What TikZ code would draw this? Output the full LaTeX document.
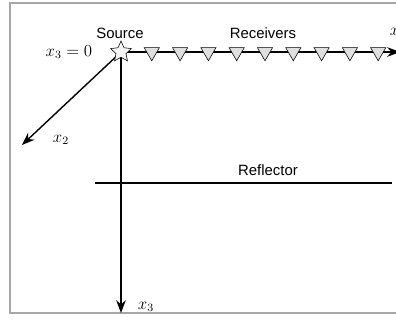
\documentclass[tikz,border=0pt]{standalone}
\usepackage{fontspec}
\setsansfont{Liberation Sans}
\usetikzlibrary{positioning,arrows.meta,shapes.geometric}

\begin{document}
\begin{tikzpicture}[x=0.025cm, y=-0.025cm, font=\sffamily\fontsize{10.6}{12}\selectfont]
    \tikzset{
      receiver/.style = {regular polygon, regular polygon sides=3, shape border rotate=180, minimum size=0.44cm, inner sep=0pt, draw=black, fill=gray!25},
      source/.style = {star, star points=5, star point ratio=2.1, minimum size=0.55cm, inner sep=0pt, draw=black, fill=gray!8},
      axis/.style = {line width=1pt, -{Stealth[length=0.32cm, width=0.24cm]}},
      frame/.style = {draw=gray!70, line width=1pt},
      mathlab/.style = {font=\fontsize{12}{14}\selectfont}
    }
    \clip (0,0) rectangle (396,320);
    \draw [frame] (10,3) rectangle (440,313);

    % axes from the source point
    \coordinate (o) at (121,52);
    \coordinate (x1end) at (400,52);
    \coordinate (x2end) at (22,145);
    \coordinate (x3end) at (121,313);
    \draw [axis] (o) -- (x1end);
    \draw [axis] (o) -- (x2end);
    \draw [axis] (o) -- (x3end);

    % reflector
    \coordinate (refl_l) at (95,183);
    \coordinate (refl_r) at (392,183);
    \draw [line width=1pt] (refl_l) -- (refl_r);

    \node (src) [source] at (o) {};
    \foreach \i in {1,...,9}
      \node (rec\i) [receiver] at ({123.5+28.3*\i},52) {};

    \node (src_lab) at (120,33) {Source};
    \node (rec_lab) at (263,33) {Receivers};
    \node (x1_lab) [mathlab, anchor=west] at (385,33) {$x_1$};
    \node (x30_lab) [mathlab] at (69,52) {$x_3=0$};
    \node (x2_lab) [mathlab] at (61,140) {$x_2$};
    \node (x3_lab) [mathlab] at (146,307) {$x_3$};
    \node (refl_lab) at (268,170) {Reflector};
\end{tikzpicture}
\end{document}
